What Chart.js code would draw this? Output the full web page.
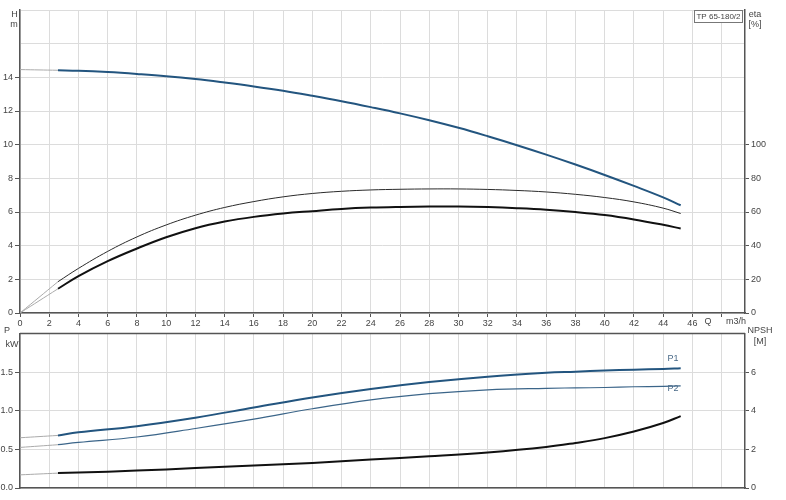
<!DOCTYPE html>
<html>
<head>
<meta charset="utf-8">
<script src="https://cdn.jsdelivr.net/npm/chart.js@4.4.0/dist/chart.umd.min.js"></script>
<style>
  body { margin: 0; background: #fff; }
  #wrap { position: relative; width: 786px; height: 500px; }
  #topChart { position: absolute; left: 0; top: 0; }
  #bottomChart { position: absolute; left: 0; top: 326px; }
</style>
</head>
<body>
<div id="wrap">
  <canvas id="topChart" width="786" height="328"></canvas>
  <canvas id="bottomChart" width="786" height="174"></canvas>
</div>
<script>
// portata Q [m3/h] - letture curve superiori
const qTop = [2.6, 4, 6, 8, 10, 12, 14, 16, 18, 20, 22, 24, 26, 28, 30, 32, 34, 36, 38, 40, 42, 44, 45.2];
const headH = [14.42, 14.39, 14.31, 14.2, 14.07, 13.9, 13.69, 13.46, 13.2, 12.9, 12.58, 12.23, 11.86, 11.45, 11.0, 10.5, 9.97, 9.41, 8.82, 8.2, 7.55, 6.87, 6.4];
const etaPump = [18.6, 26.5, 36.6, 45.2, 52.3, 58.1, 62.7, 66.2, 69, 71, 72.3, 73.1, 73.5, 73.7, 73.7, 73.4, 72.8, 71.9, 70.5, 68.6, 66, 62.3, 59.1];
const etaTotal = [14.4, 21.9, 30.8, 38.3, 45, 50.4, 54.3, 57.1, 59.1, 60.5, 61.8, 62.6, 63, 63.2, 63.2, 62.9, 62.3, 61.4, 60, 58.2, 55.6, 52.4, 50.2];

// curve inferiori (potenza e NPSH)
const qBottom = [2.6, 4, 8, 12, 16, 20, 24, 28, 32, 36, 38, 40, 42, 44, 45.2];
const powerP1 = [0.68, 0.72, 0.80, 0.91, 1.04, 1.17, 1.28, 1.37, 1.44, 1.49, 1.505, 1.52, 1.53, 1.54, 1.55];
const powerP2 = [0.56, 0.59, 0.66, 0.77, 0.89, 1.025, 1.14, 1.22, 1.27, 1.29, 1.295, 1.30, 1.31, 1.315, 1.32];
const npsh = [0.77, 0.80, 0.90, 1.03, 1.17, 1.30, 1.47, 1.64, 1.84, 2.12, 2.33, 2.58, 2.92, 3.36, 3.72];

// tratti sottili iniziali da Q=0 a Q=2.6
const qLead = [0, 2.6];
const headLead = [14.46, 14.42];
const etaPumpLead = [0, 18.6];
const etaTotalLead = [0, 14.4];
const p1Lead = [0.65, 0.68];
const p2Lead = [0.525, 0.56];
const npshLead = [0.68, 0.77];

// limiti delle etichette sugli assi
const hLabelMax = 14;
const etaLabelMax = 100;
const qLabelMax = 46;
const pLabelMax = 1.5;
const npshLabelMax = 6;

const FONT = { family: '"Liberation Sans", Arial, sans-serif', size: 9 };
const TXT = '#444';
const GRID = '#dcdcdc';
const AXIS = '#555';
const NONE = 'rgba(0,0,0,0)';

function pts(xs, ys) {
  return xs.map((x, i) => ({ x: x, y: ys[i] }));
}

function line(data, color, width, axis) {
  return {
    data: data,
    borderColor: color,
    borderWidth: width,
    pointRadius: 0,
    showLine: true,
    fill: false,
    tension: 0.4,
    yAxisID: axis
  };
}

// testi fissi del grafico superiore
const topTexts = {
  id: 'topTexts',
  afterDraw(chart) {
    const ctx = chart.ctx;
    ctx.save();
    ctx.font = '9px "Liberation Sans", Arial, sans-serif';
    ctx.fillStyle = TXT;
    ctx.textAlign = 'center';
    ctx.textBaseline = 'middle';
    ctx.fillText('H', 14.5, 14.5);
    ctx.fillText('m', 14, 25);
    ctx.fillText('eta', 755, 14.5);
    ctx.fillText('[%]', 755, 25);
    ctx.fillText('Q', 708, 322);
    ctx.fillText('m3/h', 736, 322);
    ctx.fillStyle = '#fff';
    ctx.fillRect(694, 10, 49, 12);
    ctx.strokeStyle = '#777';
    ctx.lineWidth = 1;
    ctx.strokeRect(694.5, 10.5, 48, 12);
    ctx.font = '8px "Liberation Sans", Arial, sans-serif';
    ctx.fillStyle = TXT;
    ctx.fillText('TP 65-180/2', 718.5, 16.5);
    ctx.restore();
  }
};

// testi e bordo superiore del grafico inferiore
const bottomTexts = {
  id: 'bottomTexts',
  afterDraw(chart) {
    const ctx = chart.ctx;
    const a = chart.chartArea;
    ctx.save();
    ctx.strokeStyle = AXIS;
    ctx.lineWidth = 1.5;
    ctx.beginPath();
    ctx.moveTo(a.left, a.top);
    ctx.lineTo(a.right, a.top);
    ctx.stroke();
    ctx.font = '9px "Liberation Sans", Arial, sans-serif';
    ctx.fillStyle = TXT;
    ctx.textAlign = 'center';
    ctx.textBaseline = 'middle';
    ctx.fillText('P', 7, 5);
    ctx.fillText('kW', 12, 19);
    ctx.fillText('NPSH', 760, 5);
    ctx.fillText('[M]', 760, 16);
    ctx.fillStyle = '#4a6a88';
    ctx.fillText('P1', 673, 33);
    ctx.fillText('P2', 673, 63);
    ctx.restore();
  }
};

function tickCol(limit) {
  return c => (c.tick && c.tick.value <= limit + 1e-6) ? AXIS : NONE;
}

new Chart(document.getElementById('topChart'), {
  type: 'scatter',
  data: {
    datasets: [
      line(pts(qLead, headLead), '#aaa', 1, 'y'),
      line(pts(qLead, etaPumpLead), '#aaa', 1, 'eta'),
      line(pts(qLead, etaTotalLead), '#aaa', 1, 'eta'),
      line(pts(qTop, etaPump), '#2a2a2a', 1, 'eta'),
      line(pts(qTop, etaTotal), '#111', 2, 'eta'),
      line(pts(qTop, headH), '#23557f', 2, 'y')
    ]
  },
  options: {
    responsive: false,
    animation: false,
    layout: { padding: { top: 10, left: 0, right: 0, bottom: 0 } },
    plugins: { legend: { display: false }, tooltip: { enabled: false } },
    scales: {
      x: {
        type: 'linear', min: 0, max: 49.6,
        afterFit: s => { s.height = 15; },
        ticks: {
          stepSize: 2, includeBounds: false, autoSkip: false, maxRotation: 0,
          font: FONT, color: TXT, padding: 1,
          callback: v => v <= qLabelMax ? v : ''
        },
        grid: { color: GRID, tickLength: 4, tickColor: AXIS },
        border: { color: AXIS, width: 1.5 }
      },
      y: {
        position: 'left', min: 0, max: 18,
        afterFit: s => { s.width = 20; },
        ticks: { stepSize: 2, font: FONT, color: TXT, padding: 2,
          callback: v => v <= hLabelMax ? v : '' },
        grid: { color: GRID, tickLength: 5, tickColor: tickCol(hLabelMax) },
        border: { color: AXIS, width: 1.5 }
      },
      eta: {
        position: 'right', min: 0, max: 180,
        afterFit: s => { s.width = 41; },
        ticks: { stepSize: 20, font: FONT, color: TXT, padding: 2,
          callback: v => v <= etaLabelMax ? v : '' },
        grid: { drawOnChartArea: false, tickLength: 4, tickColor: tickCol(etaLabelMax) },
        border: { color: AXIS, width: 1.5 }
      }
    }
  },
  plugins: [topTexts]
});

new Chart(document.getElementById('bottomChart'), {
  type: 'scatter',
  data: {
    datasets: [
      line(pts(qLead, p1Lead), '#aaa', 1, 'p'),
      line(pts(qLead, p2Lead), '#aaa', 1, 'p'),
      line(pts(qLead, npshLead), '#aaa', 1, 'npsh'),
      line(pts(qBottom, npsh), '#111', 2, 'npsh'),
      line(pts(qBottom, powerP2), '#3b6589', 1.2, 'p'),
      line(pts(qBottom, powerP1), '#23557f', 2, 'p')
    ]
  },
  options: {
    responsive: false,
    animation: false,
    layout: { padding: { top: 2, left: 0, right: 0, bottom: 0 } },
    plugins: { legend: { display: false }, tooltip: { enabled: false } },
    scales: {
      x: {
        type: 'linear', min: 0, max: 49.6,
        afterFit: s => { s.height = 12; },
        ticks: { stepSize: 2, includeBounds: false, display: false },
        grid: { color: GRID, drawTicks: false },
        border: { color: AXIS, width: 1.5 }
      },
      p: {
        position: 'left', min: 0, max: 2,
        afterFit: s => { s.width = 20; },
        ticks: { stepSize: 0.5, font: FONT, color: TXT, padding: 2,
          callback: v => v <= pLabelMax ? v.toFixed(1) : '' },
        grid: { color: GRID, tickLength: 5, tickColor: tickCol(pLabelMax) },
        border: { color: AXIS, width: 1.5 }
      },
      npsh: {
        position: 'right', min: 0, max: 8,
        afterFit: s => { s.width = 41; },
        ticks: { stepSize: 2, font: FONT, color: TXT, padding: 2,
          callback: v => v <= npshLabelMax ? v : '' },
        grid: { drawOnChartArea: false, tickLength: 4, tickColor: tickCol(npshLabelMax) },
        border: { color: AXIS, width: 1.5 }
      }
    }
  },
  plugins: [bottomTexts]
});
</script>
</body>
</html>
